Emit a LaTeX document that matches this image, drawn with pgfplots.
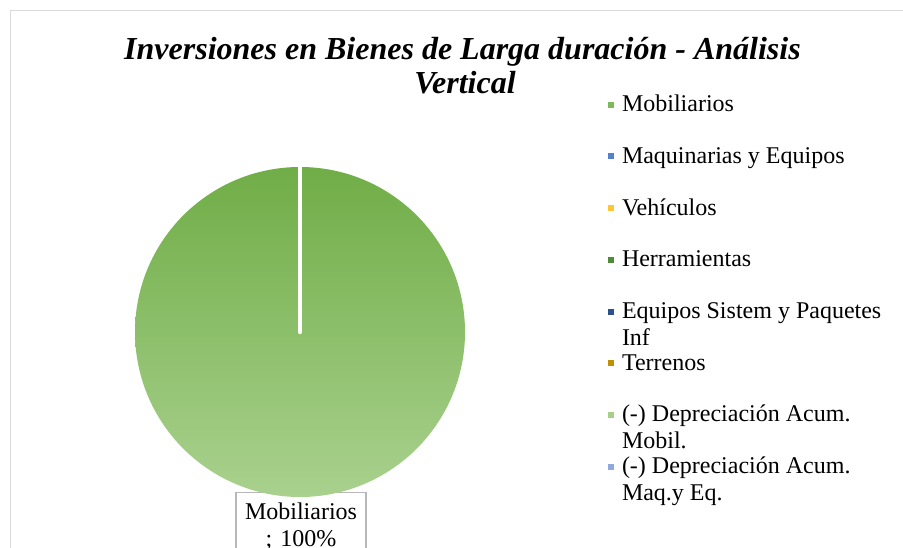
\documentclass[border=0pt]{standalone}
\usepackage{fontspec}
\setmainfont{Liberation Serif}
\usepackage{pgfplots}
\pgfplotsset{compat=1.18}
\definecolor{gTop}{HTML}{70AD47}
\definecolor{gBot}{HTML}{A9D18E}
\definecolor{cMob}{HTML}{7DB95A}
\definecolor{cMaq}{HTML}{5580CC}
\definecolor{cVeh}{HTML}{FFC533}
\definecolor{cHer}{HTML}{4F8A37}
\definecolor{cEqu}{HTML}{2E5090}
\definecolor{cTer}{HTML}{BF9000}
\definecolor{cDMo}{HTML}{A6D08A}
\definecolor{cDMa}{HTML}{8FAADC}
% full pie (one slice of 100 %) with its white slice edge
\pgfdeclareplotmark{pieslice}{%
  \shade[draw=none, top color=gTop, bottom color=gBot] (0pt,0pt) circle (\pgfplotmarksize);
  \draw[white, line width=4.5pt, line cap=round] (0pt,0pt) -- (0pt,\pgfplotmarksize);
}
\begin{document}
\begin{tikzpicture}[x=1pt,y=1pt]
\useasboundingbox (0,0) rectangle (903,-548);
\clip (0,0) rectangle (903,-548);
\draw[color=black!15, line width=1.3pt] (10.5,-10.5) rectangle (960,-620);
\node[anchor=base, font=\fontsize{32}{36}\selectfont\bfseries\itshape] at (462.5,-59.3) {Inversiones en Bienes de Larga duración - Análisis};
\node[anchor=base, font=\fontsize{32}{36}\selectfont\bfseries\itshape] at (465,-94) {Vertical};
\begin{axis}[
  at={(300pt,-332pt)}, anchor=origin,
  x=1pt, y=1pt,
  xmin=-165, xmax=165, ymin=-165, ymax=165,
  hide axis, clip=false,
  legend image code/.code={\fill[#1, draw=none] (0pt,-3pt) rectangle (6pt,3pt);},
  legend cell align=left,
  legend style={
    at={(1.43333,1.22212)}, anchor=north west,
    draw=none, fill=none, inner sep=0pt, outer sep=0pt,
    row sep=29.7pt, column sep=8pt,
    font=\fontsize{24}{26.7}\selectfont,
    nodes={inner sep=0pt, text height=18pt, text depth=4pt},
  },
]
% single category: Mobiliarios = 100 %
\addplot[only marks, mark=pieslice, mark size=165, mark options={draw=none}, forget plot] coordinates {(0,0)};
\node[draw=black!28, line width=1.2pt, fill=white, anchor=north, align=center,
      text width=112pt, inner xsep=9pt, inner ysep=11pt,
      font=\fontsize{24}{26.7}\selectfont] at (axis cs:1,-159.7) {Mobiliarios\\; 100\%};
\addlegendimage{fill=cMob}
\addlegendentry{Mobiliarios}
\addlegendimage{fill=cMaq}
\addlegendentry{Maquinarias y Equipos}
\addlegendimage{fill=cVeh}
\addlegendentry{Vehículos}
\addlegendimage{fill=cHer}
\addlegendentry{Herramientas}
\addlegendimage{fill=cEqu}
\addlegendentry{\parbox[t]{275pt}{\raggedright Equipos Sistem y Paquetes\newline Inf}}
\addlegendimage{fill=cTer}
\addlegendentry{Terrenos}
\addlegendimage{fill=cDMo}
\addlegendentry{\parbox[t]{275pt}{\raggedright (-) Depreciación Acum.\newline Mobil.}}
\addlegendimage{fill=cDMa}
\addlegendentry{\parbox[t]{275pt}{\raggedright (-) Depreciación Acum.\newline Maq.y Eq.}}
\end{axis}
\end{tikzpicture}
\end{document}
